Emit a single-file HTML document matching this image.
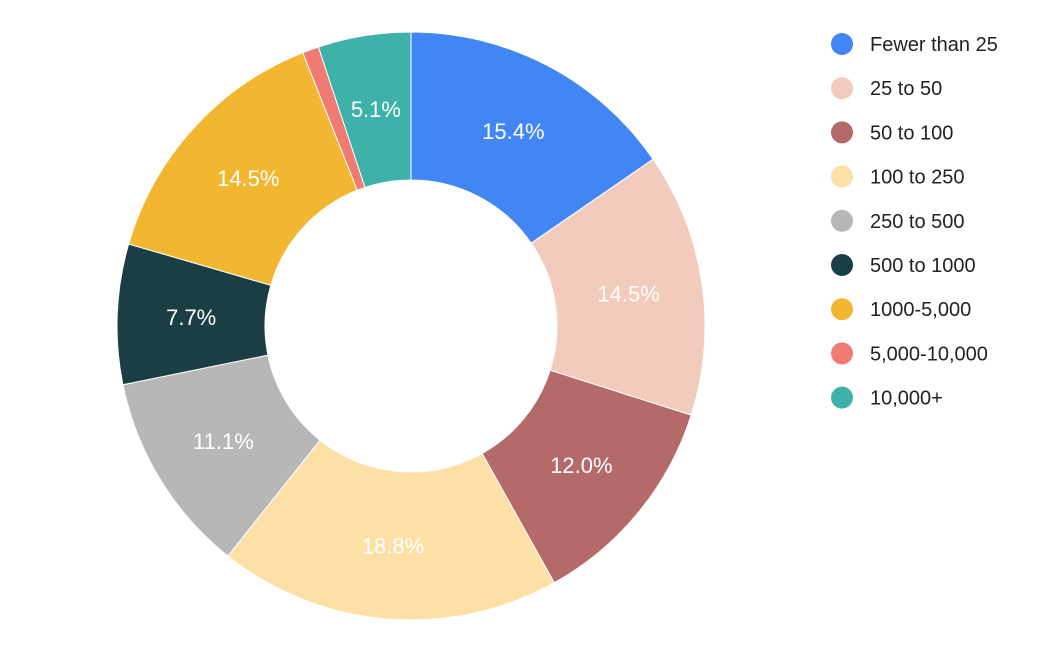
<!DOCTYPE html>
<html><head><meta charset="utf-8"><style>
html,body{margin:0;padding:0;background:#fff;}
svg text{font-family:"Liberation Sans",Arial,sans-serif;}
</style></head><body>
<svg id="chart" width="1055" height="653"></svg>
<script>
const categories=["Fewer than 25","25 to 50","50 to 100","100 to 250","250 to 500","500 to 1000","1000-5,000","5,000-10,000","10,000+"];
const values=[15.4,14.5,12.0,18.8,11.1,7.7,14.5,0.9,5.1];
const colors=["#4285f4","#f2cbbd","#b36a69","#fde0a6","#b7b7b8","#1a3e44","#f3b631","#f07b72","#3fb1ab"];
const svg=document.getElementById('chart');
const NS='http://www.w3.org/2000/svg';
const cx=411,cy=326,R=294,r=146;
const total=values.reduce((a,b)=>a+b,0);
function pt(rad,a){return [cx+rad*Math.sin(a),cy-rad*Math.cos(a)];}
let acc=0;
values.forEach((v,i)=>{
  const a0=acc/total*2*Math.PI; acc+=v; const a1=acc/total*2*Math.PI;
  const lg=(a1-a0)>Math.PI?1:0;
  const p1=pt(R,a0),p2=pt(R,a1),p3=pt(r,a1),p4=pt(r,a0);
  const path=document.createElementNS(NS,'path');
  path.setAttribute('d',`M${p1[0]},${p1[1]}A${R},${R} 0 ${lg} 1 ${p2[0]},${p2[1]}L${p3[0]},${p3[1]}A${r},${r} 0 ${lg} 0 ${p4[0]},${p4[1]}Z`);
  path.setAttribute('fill',colors[i]);
  path.setAttribute('stroke','#fff');path.setAttribute('stroke-width','1');
  
  
  svg.appendChild(path);
  if(v/total>0.02){
    const m=pt((R+r)/2,(a0+a1)/2);
    const t=document.createElementNS(NS,'text');
    t.setAttribute('x',m[0]);t.setAttribute('y',m[1]+8);
    t.setAttribute('text-anchor','middle');t.setAttribute('fill','#fff');
    t.setAttribute('font-size','22');
    t.textContent=v.toFixed(1)+'%';
    
    
    svg.appendChild(t);
  }
});
categories.forEach((c,i)=>{
  const g=document.createElementNS(NS,'g');
  
  
  const y=44+i*44.2;
  const ci=document.createElementNS(NS,'circle');
  ci.setAttribute('cx',842);ci.setAttribute('cy',y);ci.setAttribute('r',11);ci.setAttribute('fill',colors[i]);
  
  
  const t=document.createElementNS(NS,'text');
  t.setAttribute('x',870);t.setAttribute('y',y+7);t.setAttribute('font-size','20');t.setAttribute('fill','#222');
  t.textContent=c;
  
  
  g.appendChild(ci);g.appendChild(t);svg.appendChild(g);
});
</script>
</body></html>
